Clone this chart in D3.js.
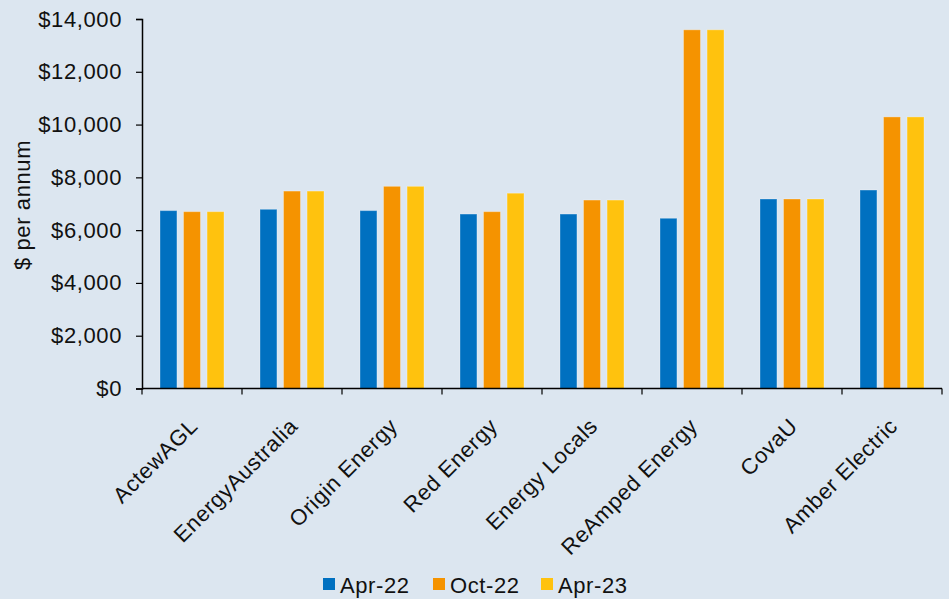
<!DOCTYPE html>
<html>
<head>
<meta charset="utf-8">
<script src="https://cdn.jsdelivr.net/npm/d3@7"></script>
<style>
  html, body { margin: 0; padding: 0; background: #dce6f0; }
  svg { display: block; font-family: "Liberation Sans", Arial, sans-serif; }
</style>
</head>
<body>
<svg id="chart" width="949" height="599"></svg>
<script>
const categories = ["ActewAGL", "EnergyAustralia", "Origin Energy", "Red Energy", "Energy Locals", "ReAmped Energy", "CovaU", "Amber Electric"];
const seriesNames = ["Apr-22", "Oct-22", "Apr-23"];
const apr22 = [6740, 6790, 6740, 6610, 6610, 6450, 7180, 7520];
const oct22 = [6700, 7480, 7660, 6700, 7140, 13590, 7180, 10290];
const apr23 = [6700, 7480, 7660, 7400, 7140, 13590, 7180, 10290];
const yTicks = [0, 2000, 4000, 6000, 8000, 10000, 12000, 14000];
const colors = ["#0070c0", "#f59300", "#ffc20e"];

const seriesValues = [apr22, oct22, apr23];
const svg = d3.select("#chart");
const W = 949, H = 599;
const FS = 22, LS = "0.6px";
svg.append("rect").attr("width", W).attr("height", H).attr("fill", "#dce6f0");

const m = {left: 142, right: 942, top: 19, bottom: 388.5};
const x0 = d3.scaleBand().domain(categories).range([m.left, m.right]).paddingInner(0.36).paddingOuter(0.18);
const x1 = d3.scaleBand().domain(seriesNames).range([0, x0.bandwidth()]).paddingInner(0.28).paddingOuter(0);
const y = d3.scaleLinear().domain([0, 14000]).range([m.bottom, m.top]);
const color = d3.scaleOrdinal().domain(seriesNames).range(colors);

// bars
const groups = svg.append("g").selectAll("g").data(categories).join("g")
  .attr("transform", d => `translate(${x0(d)},0)`);
groups.selectAll("rect")
  .data((c, i) => seriesNames.map((s, j) => ({s, v: seriesValues[j][i]})))
  .join("rect")
  .attr("x", d => x1(d.s))
  .attr("width", x1.bandwidth())
  .attr("y", d => y(d.v))
  .attr("height", d => y(0) - y(d.v))
  .attr("fill", d => color(d.s))
  .attr("stroke", "#ffffff").attr("stroke-opacity", 0.3).attr("stroke-width", 1);

// y axis
const yAxis = d3.axisLeft(y).tickValues(yTicks).tickSize(6).tickPadding(14)
  .tickFormat(d => "$" + d3.format(",")(d));
const gy = svg.append("g").attr("transform", `translate(${m.left},0)`).call(yAxis);
gy.select(".domain").attr("stroke", "#000").attr("stroke-width", 1.5);
gy.selectAll(".tick line").attr("stroke", "#000").attr("stroke-width", 1.2);
gy.selectAll(".tick text").attr("font-size", FS).attr("fill", "#111").attr("letter-spacing", LS)
  .attr("font-family", "Liberation Sans, Arial, sans-serif");

// x axis (ticks at category boundaries)
const boundaries = d3.range(categories.length + 1).map(i => m.left + i * x0.step());
const gx = svg.append("g");
gx.append("line").attr("x1", m.left).attr("x2", m.right).attr("y1", y(0)).attr("y2", y(0))
  .attr("stroke", "#000").attr("stroke-width", 1.5);
gx.selectAll("line.t").data(boundaries).join("line").attr("class", "t")
  .attr("x1", d => d).attr("x2", d => d).attr("y1", y(0)).attr("y2", y(0) + 6)
  .attr("stroke", "#000").attr("stroke-width", 1.2);
gx.selectAll("text").data(categories).join("text")
  .attr("transform", d => `translate(${x0(d) + x0.bandwidth() / 2 + 7},${y(0) + 39}) rotate(-45)`)
  .attr("text-anchor", "end")
  .attr("font-size", FS).attr("fill", "#111").attr("letter-spacing", LS)
  .text(d => d);

// y label
svg.append("text")
  .attr("transform", `translate(30,205) rotate(-90)`)
  .attr("text-anchor", "middle")
  .attr("font-size", FS).attr("fill", "#111").attr("letter-spacing", LS)
  .text("$ per annum");

// legend
const legendX = [323, 433, 541];
const lg = svg.append("g");
seriesNames.forEach((s, i) => {
  lg.append("rect").attr("x", legendX[i]).attr("y", 578).attr("width", 12).attr("height", 12).attr("fill", color(s));
  lg.append("text").attr("x", legendX[i] + 17).attr("y", 593).attr("font-size", FS).attr("fill", "#111")
    .attr("letter-spacing", LS).text(s);
});
</script>
</body>
</html>
